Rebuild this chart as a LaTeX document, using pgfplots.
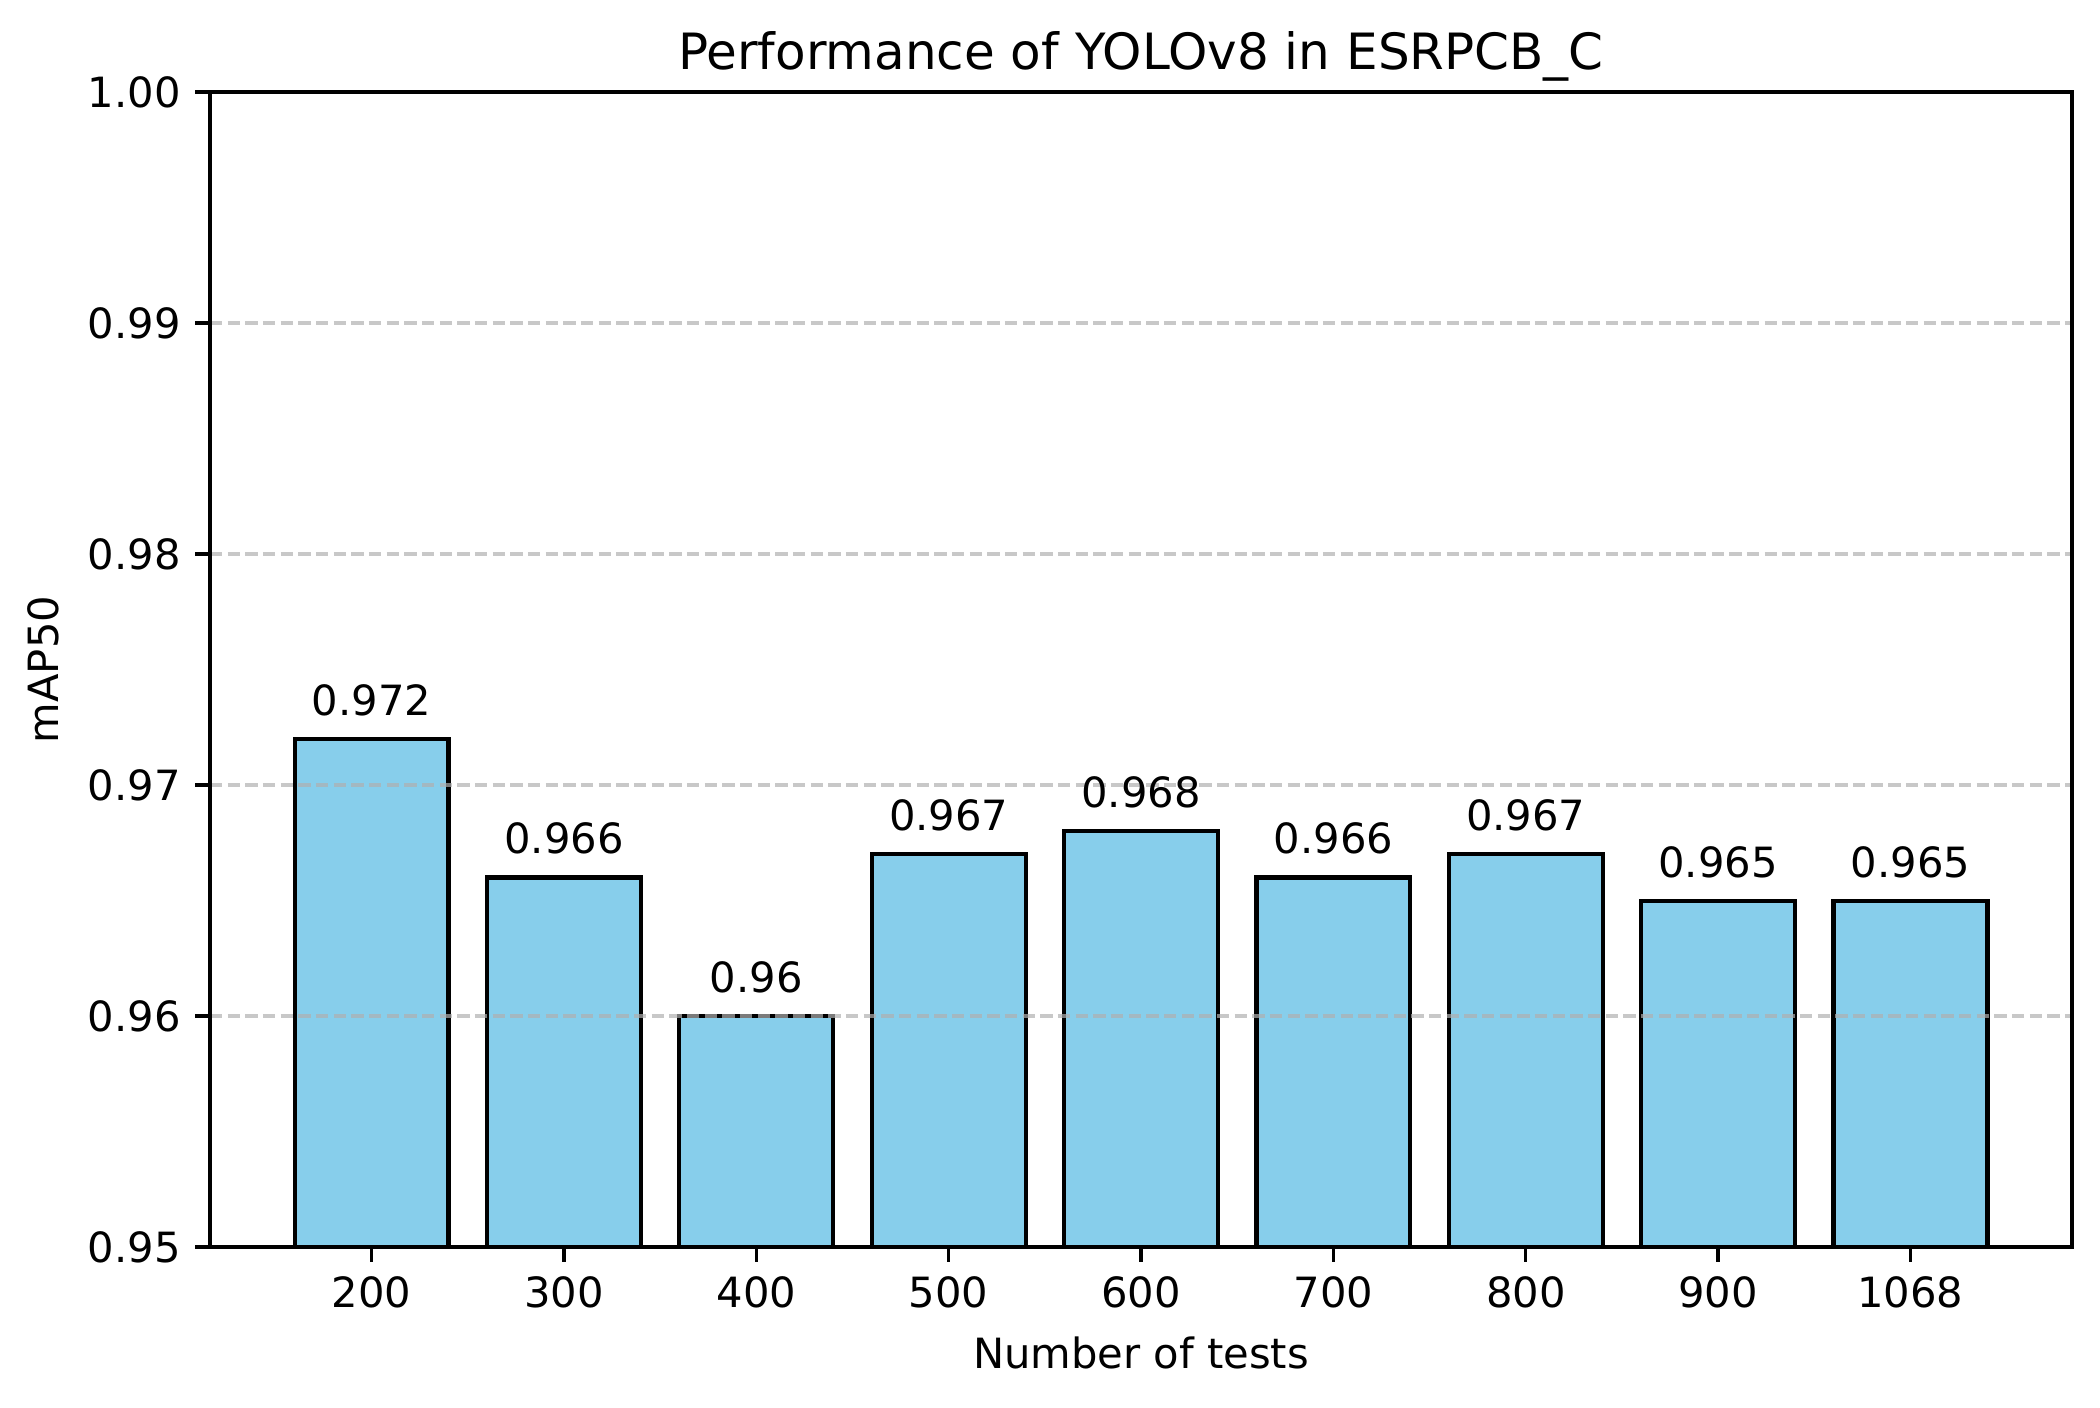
\documentclass[border=0pt]{standalone}
\usepackage{fontspec}
\setmainfont{DejaVu Sans}
\usepackage{pgfplots}
\pgfplotsset{compat=1.18}
\definecolor{skyblue}{HTML}{87CEEB}
\definecolor{gridc}{HTML}{B0B0B0}
\begin{document}
\begin{tikzpicture}
\path[use as bounding box] (-50.4pt,-38.4pt) rectangle (453.6pt,299.3pt);
\begin{axis}[
  at={(0,0)}, anchor=south west,
  scale only axis,
  width=446.9pt, height=277.2pt,
  xmin=-0.84, xmax=8.84,
  ymin=0.95, ymax=1.00,
  xtick={0,1,2,3,4,5,6,7,8},
  xticklabels={200,300,400,500,600,700,800,900,1068},
  ytick={0.95,0.96,0.97,0.98,0.99,1.00},
  yticklabel style={/pgf/number format/.cd, fixed, fixed zerofill, precision=2},
  /pgf/number format/assume math mode=true,
  tick align=outside,
  major tick length=3.5pt,
  xtick pos=bottom, ytick pos=left,
  tick style={black, line width=0.8pt},
  axis line style={line width=0.8pt},
  ymajorgrids,
  major grid style={gridc, opacity=0.7, line width=0.8pt, dash pattern=on 2.96pt off 1.28pt},
  axis on top,
  ticklabel style={font=\fontsize{10}{12}\selectfont},
  xlabel={Number of tests},
  ylabel={mAP50},
  label style={font=\fontsize{10}{12}\selectfont},
  title={Performance of YOLOv8 in ESRPCB\_C},
  title style={font=\fontsize{12}{14}\selectfont, yshift=-7pt},
  ybar, bar width=0.8, bar shift=0pt,
  nodes near coords={\pgfmathprintnumber[fixed,precision=3]{\pgfplotspointmeta}},
  nodes near coords style={font=\fontsize{10}{12}\selectfont, anchor=south, inner sep=0pt, yshift=5pt, /pgf/number format/assume math mode=true},
]
\addplot[fill=skyblue, draw=black, line width=1pt] coordinates {
  (0,0.972) (1,0.966) (2,0.960) (3,0.967) (4,0.968) (5,0.966) (6,0.967) (7,0.965) (8,0.965)
};
\end{axis}
\end{tikzpicture}
\end{document}
